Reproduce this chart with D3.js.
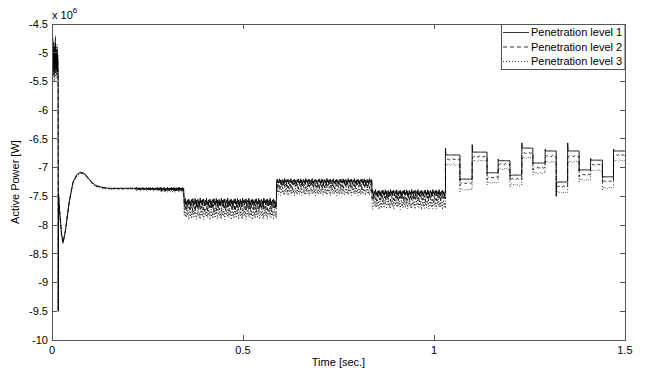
<!DOCTYPE html>
<html>
<head>
<meta charset="utf-8">
<script src="https://cdn.jsdelivr.net/npm/d3@7"></script>
<style>
  body { margin: 0; background: #fff; }
  text { font-family: "Liberation Sans", Arial, sans-serif; font-size: 11px; fill: #000; }
</style>
</head>
<body>
<svg id="chart" width="660" height="376"></svg>
<script>
// ---- data (values in units of 10^6 W, time in s) ----
const seriesNames = ["Penetration level 1", "Penetration level 2", "Penetration level 3"];
const seriesDash = [null, "4,3", "1,2"];

// start-up transient, one list of [t, value] per series
const transient1 = [[0,-5.6],[0.001,-5.0],[0.002,-5.3],[0.003,-4.9],[0.004,-5.25],[0.005,-5.0],[0.006,-5.35],
  [0.007,-4.95],[0.008,-5.2],[0.009,-4.85],[0.010,-5.3],[0.011,-5.05],[0.012,-5.25],[0.013,-4.95],[0.014,-5.3],
  [0.015,-5.1],[0.016,-5.35],[0.0165,-9.5],[0.017,-7.45],[0.020,-7.75],[0.025,-8.15],[0.029,-8.3],[0.035,-8.1],
  [0.045,-7.6],[0.055,-7.25],[0.065,-7.12],[0.075,-7.08],[0.085,-7.1],[0.095,-7.18],[0.105,-7.26],[0.115,-7.31],
  [0.13,-7.34],[0.15,-7.36]];
const transient2 = [[0,-6.3],[0.001,-4.9],[0.002,-5.35],[0.003,-4.8],[0.004,-5.3],[0.005,-4.95],[0.006,-5.4],
  [0.007,-4.9],[0.008,-5.25],[0.009,-4.75],[0.010,-5.35],[0.011,-5.0],[0.012,-5.3],[0.013,-4.9],[0.014,-5.35],
  [0.015,-5.05],[0.016,-5.4],[0.0165,-9.5],[0.017,-7.45],[0.020,-7.77],[0.025,-8.17],[0.029,-8.31],[0.035,-8.1],
  [0.045,-7.6],[0.055,-7.26],[0.065,-7.13],[0.075,-7.09],[0.085,-7.11],[0.095,-7.19],[0.105,-7.27],[0.115,-7.32],
  [0.13,-7.35],[0.15,-7.365]];
const transient3 = [[0,-6.7],[0.001,-4.65],[0.002,-5.45],[0.003,-4.75],[0.004,-5.4],[0.005,-4.9],[0.006,-5.5],
  [0.007,-4.8],[0.008,-5.35],[0.009,-4.7],[0.010,-5.45],[0.011,-4.95],[0.012,-5.4],[0.013,-4.85],[0.014,-5.45],
  [0.015,-5.0],[0.016,-5.5],[0.0165,-9.5],[0.017,-7.45],[0.020,-7.8],[0.025,-8.2],[0.029,-8.32],[0.035,-8.12],
  [0.045,-7.62],[0.055,-7.27],[0.065,-7.14],[0.075,-7.1],[0.085,-7.12],[0.095,-7.2],[0.105,-7.28],[0.115,-7.33],
  [0.13,-7.36],[0.15,-7.37]];
const transients = [transient1, transient2, transient3];

// noisy plateaus between these times (first one split where its ripple grows)
const bandTimes = [0.15, 0.22, 0.28, 0.346, 0.588, 0.838, 1.03];
const bandLevel1 = [-7.36, -7.365, -7.37, -7.60, -7.24, -7.44];
const bandLevel2 = [-7.365, -7.37, -7.38, -7.68, -7.31, -7.52];
const bandLevel3 = [-7.37, -7.38, -7.39, -7.80, -7.41, -7.63];
const bandAmp1 = [0.01, 0.02, 0.03, 0.07, 0.05, 0.06];
const bandAmp2 = [0.012, 0.025, 0.035, 0.08, 0.06, 0.07];
const bandAmp3 = [0.015, 0.03, 0.045, 0.11, 0.08, 0.10];
const bandLevels = [bandLevel1, bandLevel2, bandLevel3];
const bandAmps = [bandAmp1, bandAmp2, bandAmp3];
// ripple shape of the plateaus (normalised), sampled every rippleStep seconds
const ripplePattern = [0.2, -0.6, 0.9, -0.3, 0.5, -1, 0.1, 0.7, -0.5, 0.3, -0.8, 1, -0.2, 0.4, -0.7, 0.6,
  -0.1, 0.8, -0.9, 0.0, 0.45, -0.35, 0.95, -0.65, 0.15, -0.85, 0.55, -0.15, 0.75, -0.45, 0.35, -0.95,
  0.05, 0.65, -0.25, 0.85, -0.55];
const rippleStep = 0.0015;

// switching steps after 1 s
const stepTimes = [1.03, 1.068, 1.10, 1.139, 1.168, 1.199, 1.23, 1.259, 1.291, 1.32, 1.35, 1.38, 1.41, 1.441, 1.47, 1.5];
const stepLevel1 = [-6.78, -7.20, -6.73, -7.09, -6.88, -7.13, -6.66, -6.92, -6.71, -7.25, -6.71, -7.04, -6.87, -7.16, -6.71];
const stepLevel2 = [-6.86, -7.27, -6.81, -7.17, -6.94, -7.20, -6.75, -7.00, -6.80, -7.33, -6.80, -7.12, -6.95, -7.24, -6.78];
const stepLevel3 = [-6.95, -7.38, -6.88, -7.26, -7.03, -7.30, -6.83, -7.09, -6.90, -7.43, -6.90, -7.21, -7.05, -7.35, -6.88];
const stepSpike1 = [-6.66, -7.22, -6.60, -7.10, -6.85, -7.15, -6.57, -6.93, -6.68, -7.50, -6.57, -7.06, -6.84, -7.18, -6.68];
const stepLevels = [stepLevel1, stepLevel2, stepLevel3];
const stepRipple = [0, 0.015, 0.02];

const xTicks = [0, 0.5, 1, 1.5];
const yTicks = [-10, -9.5, -9, -8.5, -8, -7.5, -7, -6.5, -6, -5.5, -5, -4.5];

// ---- layout ----
const W = 660, H = 376;
const M = { left: 52, right: 35, top: 24, bottom: 36 };
const AXIS = "#555";

const svg = d3.select("#chart");
svg.append("rect").attr("width", W).attr("height", H).attr("fill", "#fff");

const x = d3.scaleLinear().domain([0, 1.5]).range([M.left, W - M.right]);
const y = d3.scaleLinear().domain([-10, -4.5]).range([H - M.bottom, M.top]);

function buildSeries(k) {
    const pts = transients[k].map(([t, v]) => ({ t, v }));
    const n = ripplePattern.length;
    let i = 0;
    for (let b = 0; b < bandTimes.length - 1; b++) {
        for (let t = bandTimes[b]; t < bandTimes[b + 1]; t += rippleStep, i++) {
            const r = ripplePattern[(i + k * 7) % n];
            pts.push({ t, v: bandLevels[k][b] + bandAmps[k][b] * r });
        }
    }
    for (let s = 0; s < stepTimes.length - 1; s++) {
        const t0 = stepTimes[s], t1 = stepTimes[s + 1];
        const lvl = stepLevels[k][s];
        pts.push({ t: t0, v: k === 0 ? stepSpike1[s] : lvl - 0.04 });
        let j = 0;
        for (let t = t0 + 0.001; t < t1; t += rippleStep * 2, j++) {
            pts.push({ t, v: lvl + stepRipple[k] * ripplePattern[(j + k * 5) % n] });
        }
        pts.push({ t: t1 - 0.0002, v: lvl });
    }
    return pts;
}

svg.append("clipPath").attr("id", "plotClip")
    .append("rect")
    .attr("x", M.left).attr("y", M.top)
    .attr("width", W - M.left - M.right).attr("height", H - M.top - M.bottom);

const line = d3.line().x(d => x(d.t)).y(d => y(d.v));

const dataLayer = svg.append("g").attr("clip-path", "url(#plotClip)");
[2, 1, 0].forEach(k => {
    dataLayer.append("path")
        .attr("fill", "none")
        .attr("stroke", "#000")
        .attr("stroke-width", k === 0 ? 0.9 : 0.8)
        .attr("stroke-dasharray", seriesDash[k])
        .attr("d", line(buildSeries(k)));
});

// ---- axes box with inward ticks ----
const TL = 5;
const axes = svg.append("g").attr("stroke", AXIS).attr("stroke-width", 1).attr("shape-rendering", "crispEdges");
axes.append("rect")
    .attr("x", M.left).attr("y", M.top)
    .attr("width", W - M.left - M.right).attr("height", H - M.top - M.bottom)
    .attr("fill", "none");

xTicks.forEach(d => {
    axes.append("line").attr("x1", x(d)).attr("x2", x(d)).attr("y1", H - M.bottom).attr("y2", H - M.bottom - TL);
    axes.append("line").attr("x1", x(d)).attr("x2", x(d)).attr("y1", M.top).attr("y2", M.top + TL);
});
yTicks.forEach(d => {
    axes.append("line").attr("x1", M.left).attr("x2", M.left + TL).attr("y1", y(d)).attr("y2", y(d));
    axes.append("line").attr("x1", W - M.right).attr("x2", W - M.right - TL).attr("y1", y(d)).attr("y2", y(d));
});

svg.append("g").selectAll("text")
    .data(xTicks)
    .join("text")
    .attr("x", d => x(d))
    .attr("y", H - M.bottom + 14)
    .attr("text-anchor", "middle")
    .text(d => d);

svg.append("g").selectAll("text")
    .data(yTicks)
    .join("text")
    .attr("x", M.left - 4)
    .attr("y", d => y(d))
    .attr("dy", "0.35em")
    .attr("text-anchor", "end")
    .text(d => d);

// exponent label
const expo = svg.append("text").attr("x", M.left).attr("y", M.top - 5);
expo.append("tspan").text("x 10");
expo.append("tspan").attr("dy", -6).style("font-size", "8px").text("6");

svg.append("text")
    .attr("x", (M.left + W - M.right) / 2)
    .attr("y", H - 10)
    .attr("text-anchor", "middle")
    .text("Time [sec.]");

svg.append("text")
    .attr("transform", `translate(19,${(M.top + H - M.bottom) / 2}) rotate(-90)`)
    .attr("text-anchor", "middle")
    .text("Active Power [W]");

// ---- legend ----
const lg = svg.append("g");
lg.append("rect")
    .attr("x", 501.5).attr("y", M.top + 0.5)
    .attr("width", W - M.right - 501.5).attr("height", 45)
    .attr("fill", "#fff").attr("stroke", AXIS);
seriesNames.forEach((name, k) => {
    const ly = M.top + 8.5 + k * 14.5;
    lg.append("line")
        .attr("x1", 503).attr("x2", 529).attr("y1", ly).attr("y2", ly)
        .attr("stroke", "#000").attr("stroke-width", 0.8)
        .attr("stroke-dasharray", seriesDash[k]);
    lg.append("text")
        .attr("x", 531).attr("y", ly).attr("dy", "0.35em")
        .text(name);
});
</script>
</body>
</html>
